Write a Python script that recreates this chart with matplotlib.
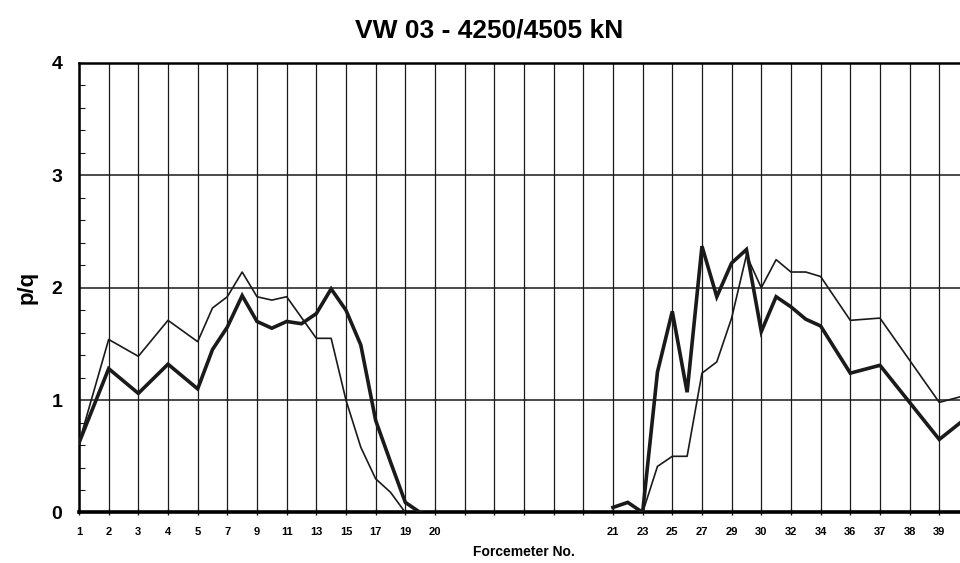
import numpy as np
import matplotlib
matplotlib.use("Agg")
import matplotlib.pyplot as plt
from matplotlib.ticker import MultipleLocator

# slot labels along the x axis (empty slots have no label)
slot_labels = ['1', '2', '3', '4', '5', '7', '9', '11', '13', '15', '17', '19', '20',
               '', '', '', '', '',
               '21', '23', '25', '27', '29', '30', '32', '34', '36', '37', '38', '39', '40']
# forcemeter numbers and the slot they sit on
tick_nums = [1, 2, 3, 4, 5, 7, 9, 11, 13, 15, 17, 19, 20,
             21, 23, 25, 27, 29, 30, 32, 34, 36, 37, 38, 39, 40]
tick_slots = [0, 1, 2, 3, 4, 5, 6, 7, 8, 9, 10, 11, 12,
              18, 19, 20, 21, 22, 23, 24, 25, 26, 27, 28, 29, 30]
y_ticks = [0, 1, 2, 3, 4]

# thick line (4250 kN)
thick_left_x = [1, 2, 3, 4, 5, 6, 7, 8, 9, 10, 11, 12, 13, 14, 15, 16, 17, 18, 19, 19.5]
thick_left_y = [0.62, 1.28, 1.06, 1.32, 1.10, 1.45, 1.65, 1.93, 1.70, 1.64, 1.70, 1.68,
                1.77, 1.99, 1.80, 1.49, 0.82, 0.45, 0.09, 0.0]
thick_right_x = [21, 22, 23, 24, 25, 26, 27, 28, 29, 29.5, 30, 31, 32, 33, 34, 36, 37, 39, 40]
thick_right_y = [0.045, 0.09, 0.0, 1.25, 1.79, 1.07, 2.37, 1.92, 2.22, 2.34, 1.61, 1.92,
                 1.83, 1.72, 1.66, 1.24, 1.31, 0.65, 0.86]

# thin line (4505 kN)
thin_left_x = [1, 2, 3, 4, 5, 6, 7, 8, 9, 10, 11, 13, 14, 15, 16, 17, 18, 19]
thin_left_y = [0.62, 1.54, 1.39, 1.71, 1.52, 1.82, 1.92, 2.14, 1.92, 1.89, 1.92, 1.55,
               1.55, 1.0, 0.58, 0.30, 0.18, 0.0]
thin_right_x = [23, 24, 25, 26, 27, 28, 29, 29.5, 30, 31, 32, 33, 34, 36, 37, 39, 40]
thin_right_y = [0.0, 0.41, 0.50, 0.50, 1.24, 1.34, 1.73, 2.29, 2.0, 2.25, 2.14, 2.14,
                2.10, 1.71, 1.73, 0.98, 1.05]


def to_slot(x):
    return np.interp(x, tick_nums, tick_slots)


plt.rcParams['font.family'] = ['Liberation Sans', 'DejaVu Sans']
fig = plt.figure(figsize=(9.6, 5.63), dpi=100)
ax = fig.add_axes([0.0823, 0.0897, 0.927, 0.7984])

ink = '#1a1a1a'
for xs, ys in [(thick_left_x, thick_left_y), (thick_right_x, thick_right_y)]:
    ax.plot(to_slot(xs), ys, color=ink, lw=2.6, solid_joinstyle='miter', zorder=3)
for xs, ys in [(thin_left_x, thin_left_y), (thin_right_x, thin_right_y)]:
    ax.plot(to_slot(xs), ys, color=ink, lw=1.2, zorder=3)

ax.set_xlim(0, 30)
ax.set_ylim(0, 4)
ax.set_xticks(range(len(slot_labels)))
ax.set_xticklabels(slot_labels, fontsize=8, fontweight='bold')
ax.set_yticks(y_ticks)
ax.set_yticklabels([str(v) for v in y_ticks], fontsize=14, fontweight='bold')
ax.yaxis.set_minor_locator(MultipleLocator(0.2))
ax.tick_params(axis='x', direction='inout', length=5, width=1, pad=8, color=ink)
ax.tick_params(axis='y', which='major', direction='inout', length=0, pad=12)
ax.tick_params(axis='y', which='minor', direction='in', length=4, width=0.8, color=ink)

ax.grid(axis='x', color=ink, lw=0.9)
ax.grid(axis='y', which='major', color=ink, lw=1.1)
for side in ['left', 'top']:
    ax.spines[side].set_linewidth(1.8)
ax.spines['bottom'].set_linewidth(2.6)
ax.spines['right'].set_visible(False)

ax.set_ylabel('p/q', fontsize=16, fontweight='bold', labelpad=10)
ax.set_xlabel('Forcemeter No.', fontsize=10, fontweight='bold', labelpad=6)
fig.text(0.51, 0.945, 'VW 03 - 4250/4505 kN', ha='center', va='center',
         fontsize=19, fontweight='bold')

fig.savefig('out.png', dpi=100)
